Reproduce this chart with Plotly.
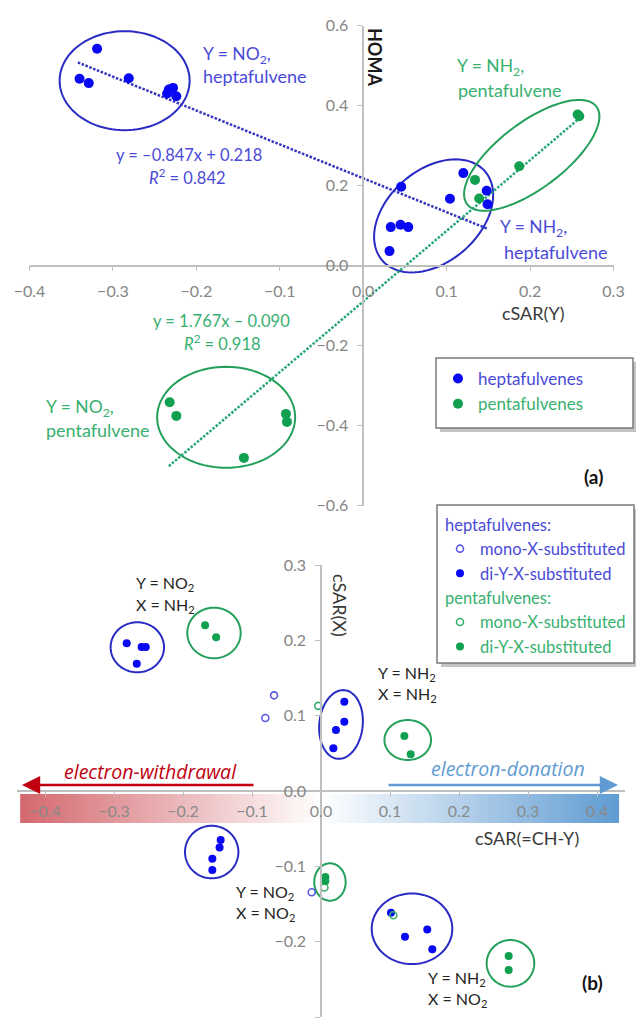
import numpy as np
import plotly.graph_objects as go

W, H = 636, 1025

# ---------------- data: panel (a) HOMA vs cSAR(Y) ----------------
hep_a_x = [-0.319, -0.340, -0.329, -0.281, -0.233, -0.228, -0.235, -0.224,
           0.0455, 0.033, 0.0447, 0.054, 0.0315, 0.104, 0.120, 0.148, 0.149]
hep_a_y = [0.542, 0.467, 0.456, 0.468, 0.440, 0.444, 0.430, 0.423,
           0.197, 0.096, 0.102, 0.096, 0.036, 0.167, 0.231, 0.187, 0.153]
pen_a_x = [0.134, 0.139, 0.187, 0.257, 0.259, -0.232, -0.224, -0.0926, -0.0914, -0.143]
pen_a_y = [0.214, 0.1675, 0.248, 0.3775, 0.373, -0.342, -0.376, -0.371, -0.391, -0.481]

hep_slope, hep_icept = -0.847, 0.218
hep_fit_x = [-0.342, 0.148]
pen_slope, pen_icept = 1.767, -0.090
pen_fit_x = [-0.233, 0.259]

# ---------------- data: panel (b) cSAR(X) vs cSAR(=CH-Y) ----------------
hep_mono_x = [-0.068, -0.0807, -0.0135]
hep_mono_y = [0.127, 0.097, -0.1345]
hep_di_x = [-0.2816, -0.260, -0.254, -0.267,
            0.0338, 0.0338, 0.0217, 0.0179,
            -0.1454, -0.147, -0.1575, -0.1575,
            0.1014, 0.1217, 0.154, 0.1613]
hep_di_y = [0.196, 0.191, 0.191, 0.169,
            0.1186, 0.092, 0.081, 0.0567,
            -0.065, -0.075, -0.090, -0.105,
            -0.1616, -0.1935, -0.1837, -0.210]
pen_mono_x = [-0.004, 0.005, 0.1048]
pen_mono_y = [0.113, -0.128, -0.165]
pen_di_x = [-0.168, -0.152, 0.1208, 0.130, 0.0063, 0.0063, 0.272, 0.272]
pen_di_y = [0.220, 0.204, 0.073, 0.0487, -0.114, -0.1195, -0.219, -0.2377]

x_ticks_a = [-0.4, -0.3, -0.2, -0.1, 0.0, 0.1, 0.2, 0.3]
y_ticks_a = [-0.6, -0.4, -0.2, 0.0, 0.2, 0.4, 0.6]
x_ticks_b = [-0.4, -0.3, -0.2, -0.1, 0.0, 0.1, 0.2, 0.3, 0.4]
y_ticks_b = [-0.3, -0.2, -0.1, 0.0, 0.1, 0.2, 0.3]

# ---------------- styles ----------------
BLUE_PT = '#0808f2'
BLUE_LINE = '#2a2ac4'
BLUE_TXT = '#4a4ad8'
BLUE_TREND = '#3434c0'
BLUE_OPEN = '#5a5ae0'
GREEN_PT = '#10a050'
GREEN_LINE = '#24a05c'
GREEN_TXT = '#38b070'
GREEN_TREND = '#26a676'
GREEN_OPEN = '#3ab070'
AXIS = '#bfbfbf'
TICKTXT = '#858585'
DARK = '#262626'
FONT = 'Lato'

def xp(px):
    return px / W

def yp(py):
    return 1 - py / H

# pixel geometry of the two panels
A_X0, A_X1, A_XR = 29.5, 613.5, (-0.4, 0.3)
A_Y0, A_Y1, A_YR = 25.5, 505.5, (-0.6, 0.6)
B_SX = 690.0
B_XC = 321.0
B_XR = (-0.44, 0.44)
B_Y0, B_Y1, B_YR = 565.0, 1017.0, (-0.3, 0.3)

sx_a = (A_X1 - A_X0) / (A_XR[1] - A_XR[0])
sy_a = (A_Y1 - A_Y0) / (A_YR[1] - A_YR[0])
sy_b = (B_Y1 - B_Y0) / (B_YR[1] - B_YR[0])

a_zero_px = A_X0 + (0 - A_XR[0]) * sx_a
a_zero_py = A_Y1 - (0 - A_YR[0]) * sy_a
b_x0_px = B_XC + B_XR[0] * B_SX
b_x1_px = B_XC + B_XR[1] * B_SX
b_zero_py = B_Y1 - (0 - B_YR[0]) * sy_b

fig = go.Figure()

# trend lines (a)
fig.add_trace(go.Scatter(x=hep_fit_x, y=[hep_slope * v + hep_icept for v in hep_fit_x],
                         mode='lines', line=dict(color=BLUE_TREND, width=2.5, dash='2.5px,1.6px'),
                         showlegend=False, hoverinfo='skip', xaxis='x', yaxis='y'))
fig.add_trace(go.Scatter(x=pen_fit_x, y=[pen_slope * v + pen_icept for v in pen_fit_x],
                         mode='lines', line=dict(color=GREEN_TREND, width=2.5, dash='2.5px,1.6px'),
                         showlegend=False, hoverinfo='skip', xaxis='x', yaxis='y'))
# points (a)
fig.add_trace(go.Scatter(x=hep_a_x, y=hep_a_y, mode='markers',
                         marker=dict(color=BLUE_PT, size=10),
                         name=f"<span style='color:{BLUE_TXT}'>heptafulvenes</span>",
                         legend='legend', xaxis='x', yaxis='y'))
fig.add_trace(go.Scatter(x=pen_a_x, y=pen_a_y, mode='markers',
                         marker=dict(color=GREEN_PT, size=10),
                         name=f"<span style='color:{GREEN_TXT}'>pentafulvenes</span>",
                         legend='legend', xaxis='x', yaxis='y'))

# points (b)
fig.add_trace(go.Scatter(x=hep_mono_x, y=hep_mono_y, mode='markers',
                         marker=dict(color=BLUE_OPEN, size=7, symbol='circle-open', line=dict(width=1.6)),
                         name=f"<span style='color:{BLUE_TXT}'>mono-X-substituted</span>",
                         legend='legend2', legendgroup='hep',
                         legendgrouptitle=dict(text='heptafulvenes:', font=dict(color=BLUE_TXT, size=16.5, family=FONT)),
                         xaxis='x2', yaxis='y2'))
fig.add_trace(go.Scatter(x=hep_di_x, y=hep_di_y, mode='markers',
                         marker=dict(color=BLUE_PT, size=8),
                         name=f"<span style='color:{BLUE_TXT}'>di-Y-X-substituted</span>",
                         legend='legend2', legendgroup='hep',
                         xaxis='x2', yaxis='y2'))
fig.add_trace(go.Scatter(x=pen_mono_x, y=pen_mono_y, mode='markers',
                         marker=dict(color=GREEN_OPEN, size=7, symbol='circle-open', line=dict(width=1.6)),
                         name=f"<span style='color:{GREEN_TXT}'>mono-X-substituted</span>",
                         legend='legend2', legendgroup='pen',
                         legendgrouptitle=dict(text='pentafulvenes:', font=dict(color=GREEN_TXT, size=16.5, family=FONT)),
                         xaxis='x2', yaxis='y2'))
fig.add_trace(go.Scatter(x=pen_di_x, y=pen_di_y, mode='markers',
                         marker=dict(color=GREEN_PT, size=8),
                         name=f"<span style='color:{GREEN_TXT}'>di-Y-X-substituted</span>",
                         legend='legend2', legendgroup='pen',
                         xaxis='x2', yaxis='y2'))

shapes = []

# ellipses: (xref, yref, cx, cy, a_px, b_px, angle_deg, color)
ellipses = [
    ('x', 'y', -0.286, 0.462, 65, 49.5, 0, BLUE_LINE),
    ('x', 'y', 0.0844, 0.124, 68, 46, 41, BLUE_LINE),
    ('x', 'y', 0.202, 0.2755, 81, 33, 37, GREEN_LINE),
    ('x', 'y', -0.1643, -0.3795, 69, 50.5, 0, GREEN_LINE),
    ('x2', 'y2', -0.2662, 0.1908, 26.7, 25, 0, BLUE_LINE),
    ('x2', 'y2', -0.1551, 0.2098, 26.7, 25.3, 0, GREEN_LINE),
    ('x2', 'y2', 0.029, 0.0883, 21.7, 34.5, -6, BLUE_LINE),
    ('x2', 'y2', 0.1257, 0.0677, 23.3, 20, 0, GREEN_LINE),
    ('x2', 'y2', -0.1584, -0.081, 26.7, 26.3, 0, BLUE_LINE),
    ('x2', 'y2', 0.013, -0.1208, 15.7, 18.7, 0, GREEN_LINE),
    ('x2', 'y2', 0.1319, -0.1829, 40.3, 35.3, 0, BLUE_LINE),
    ('x2', 'y2', 0.2746, -0.2288, 23.8, 23.3, 0, GREEN_LINE),
]
for xr, yr, cx, cy, a, b, ang, col in ellipses:
    sx = sx_a if xr == 'x' else B_SX
    sy = sy_a if yr == 'y' else sy_b
    th = np.deg2rad(ang)
    t = np.linspace(0, 2 * np.pi, 97)
    dx = a * np.cos(t) * np.cos(th) - b * np.sin(t) * np.sin(th)
    dy = a * np.cos(t) * np.sin(th) + b * np.sin(t) * np.cos(th)
    xs = cx + dx / sx
    ys = cy + dy / sy
    path = 'M ' + ' L '.join(f'{u:.5f},{v:.5f}' for u, v in zip(xs, ys)) + ' Z'
    shapes.append(dict(type='path', xref=xr, yref=yr, path=path,
                       line=dict(color=col, width=2), layer='below'))

# gradient band under the cSAR(=CH-Y) axis
band_left, band_right = -0.436, 0.430
n_strips = 120
edges = np.linspace(band_left, band_right, n_strips + 1)
red = np.array([212, 104, 110])
blue = np.array([96, 156, 210])
white = np.array([255, 255, 255])
for i in range(n_strips):
    m = 0.5 * (edges[i] + edges[i + 1])
    if m < 0:
        f = min(1.0, -m / abs(band_left))
        c = white + (red - white) * f
    else:
        f = min(1.0, m / band_right)
        c = white + (blue - white) * f
    col = 'rgb(%d,%d,%d)' % tuple(int(round(v)) for v in c)
    shapes.append(dict(type='rect', xref='x2', yref='paper',
                       x0=edges[i], x1=edges[i + 1] + 0.002,
                       y0=yp(823), y1=yp(794), fillcolor=col,
                       line=dict(width=0), layer='below'))

# legend frames with drop shadows (drawn as shapes; the legends sit on top)
for (lx0, ly0, lx1, ly1) in [(436, 358, 633, 428), (437, 505, 634, 663)]:
    shapes.append(dict(type='rect', xref='paper', yref='paper',
                       x0=xp(lx0 + 4), x1=xp(min(lx1 + 4, W)), y0=yp(ly1 + 4), y1=yp(ly0 + 4),
                       fillcolor='#c4c4c4', line=dict(width=0), layer='above'))
    shapes.append(dict(type='rect', xref='paper', yref='paper',
                       x0=xp(lx0), x1=xp(lx1), y0=yp(ly1), y1=yp(ly0),
                       fillcolor='white', line=dict(color='#7a7a7a', width=1.5), layer='above'))

ann = []

def txt(text, x, y, color, size=18, anchor='left', angle=0, bold=False, italic=False, family=FONT):
    t = text
    if bold:
        t = f'<b>{t}</b>'
    if italic:
        t = f'<i>{t}</i>'
    ann.append(dict(text=t, x=xp(x), y=yp(y), xref='paper', yref='paper',
                    xanchor=anchor, yanchor='middle', showarrow=False,
                    textangle=angle, font=dict(family=family, size=size, color=color)))

# panel (a) texts
txt('Y = NO<sub>2</sub>,', 201, 55, BLUE_TXT, size=17.5)
txt('heptafulvene', 201, 76, BLUE_TXT)
txt('y = –0.847x + 0.218', 189, 155, BLUE_TXT, size=16.5, anchor='center')
txt('<i>R</i><sup>2</sup> = 0.842', 187, 177, BLUE_TXT, size=16.5, anchor='center')
txt('Y = NH<sub>2</sub>,', 455, 67, GREEN_TXT, size=17.5)
txt('pentafulvene', 456, 90, GREEN_TXT)
txt('Y = NH<sub>2</sub>,', 498, 228, BLUE_TXT, size=17.5)
txt('heptafulvene', 502, 252, BLUE_TXT)
txt('y = 1.767x – 0.090', 221, 321, GREEN_TXT, size=16.5, anchor='center')
txt('<i>R</i><sup>2</sup> = 0.918', 222, 343, GREEN_TXT, size=16.5, anchor='center')
txt('Y = NO<sub>2</sub>,', 44, 408, GREEN_TXT, size=17.5)
txt('pentafulvene', 44, 430, GREEN_TXT)
txt('cSAR(Y)', 533, 313, '#3a3a3a', anchor='center')
txt('HOMA', 375, 57, '#1a1a1a', anchor='center', angle=90, bold=True)
txt('(a)', 593, 477, '#111111', size=19, anchor='center', bold=True)

# panel (b) texts
txt('Y = NO<sub>2</sub>', 134, 583, DARK, size=16)
txt('X = NH<sub>2</sub>', 134, 605, DARK, size=16)
txt('Y = NH<sub>2</sub>', 376, 673, DARK, size=16)
txt('X = NH<sub>2</sub>', 376, 694, DARK, size=16)
txt('Y = NO<sub>2</sub>', 234, 892, DARK, size=16)
txt('X = NO<sub>2</sub>', 234, 913, DARK, size=16)
txt('Y = NH<sub>2</sub>', 426, 978, DARK, size=16)
txt('X = NO<sub>2</sub>', 426, 999, DARK, size=16)
txt('(b)', 592, 982, '#111111', size=19, anchor='center', bold=True)
txt('cSAR(X)', 340, 605, '#3a3a3a', anchor='center', angle=90)
txt('cSAR(=CH-Y)', 527, 838, '#3a3a3a', anchor='center')
txt('electron-withdrawal', 150, 771, '#c00010', size=19.5, anchor='center', italic=True, family='Open Sans')
txt('electron-donation', 508, 768, '#5f9bd2', size=19.5, anchor='center', italic=True, family='Open Sans')

# arrows
ann.append(dict(x=xp(22), y=yp(785), xref='paper', yref='paper', ax=233, ay=0,
                axref='pixel', ayref='pixel', text='', showarrow=True,
                arrowhead=2, arrowsize=1.4, arrowwidth=2.6, arrowcolor='#c00010'))
ann.append(dict(x=xp(618), y=yp(785), xref='paper', yref='paper', ax=-231, ay=0,
                axref='pixel', ayref='pixel', text='', showarrow=True,
                arrowhead=2, arrowsize=1.4, arrowwidth=2.6, arrowcolor='#5f9bd2'))

axis_common = dict(showline=True, linecolor=AXIS, linewidth=1.6, ticks='outside',
                   ticklen=5, tickcolor=AXIS, tickwidth=1.2, showgrid=False, zeroline=False,
                   tickformat='.1f', anchor='free', automargin=False,
                   tickfont=dict(family=FONT, size=16, color=TICKTXT))

fig.update_layout(
    width=W, height=H, margin=dict(l=0, r=0, t=0, b=0, autoexpand=False),
    paper_bgcolor='white', plot_bgcolor='rgba(0,0,0,0)',
    font=dict(family=FONT),
    xaxis=dict(axis_common, domain=[xp(A_X0), xp(A_X1)], range=list(A_XR),
               tickvals=x_ticks_a, position=yp(a_zero_py), ticklabelstandoff=6),
    yaxis=dict(axis_common, domain=[yp(A_Y1), yp(A_Y0)], range=list(A_YR),
               tickvals=y_ticks_a, position=xp(a_zero_px), ticklabelstandoff=6),
    xaxis2=dict(axis_common, domain=[xp(b_x0_px), xp(b_x1_px)], range=list(B_XR),
                tickvals=x_ticks_b, position=yp(b_zero_py), ticklabelstandoff=1,
                tickfont=dict(family=FONT, size=16, color='#8a8a8a')),
    yaxis2=dict(axis_common, domain=[yp(B_Y1), yp(B_Y0)], range=list(B_YR),
                tickvals=y_ticks_b, position=xp(B_XC), ticklabelstandoff=6),
    legend=dict(x=xp(438), y=yp(361), xanchor='left', yanchor='top',
                bgcolor='rgba(0,0,0,0)', borderwidth=0,
                font=dict(family=FONT, size=17), itemwidth=30, tracegroupgap=0),
    legend2=dict(x=xp(440), y=yp(507), xanchor='left', yanchor='top',
                 bgcolor='rgba(0,0,0,0)', borderwidth=0,
                 font=dict(family=FONT, size=16.5), itemwidth=30, tracegroupgap=0,
                 traceorder='grouped'),
    shapes=shapes, annotations=ann, showlegend=True,
)

fig.write_html('out.html', config={'displayModeBar': False},
               post_script="document.body.style.margin='0';document.body.style.overflow='hidden';")
